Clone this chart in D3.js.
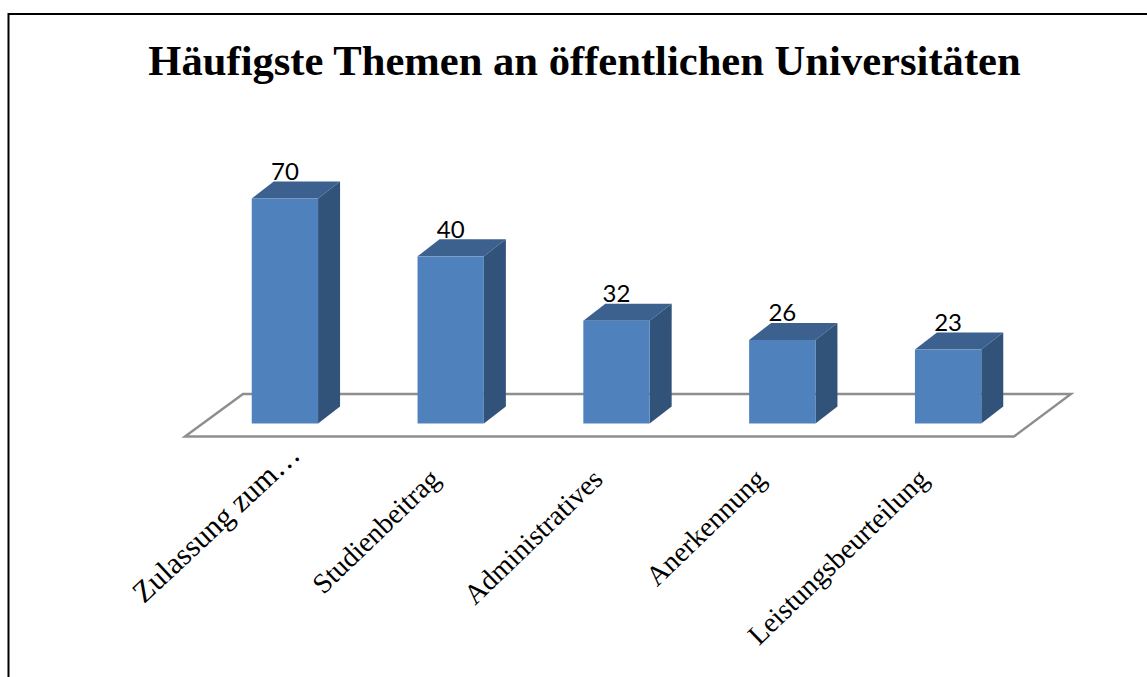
<!DOCTYPE html>
<html>
<head>
<meta charset="utf-8">
<script src="https://d3js.org/d3.v7.min.js"></script>
<style>
  html, body { margin: 0; padding: 0; background: #fff; overflow: hidden; }
</style>
</head>
<body>
<div id="chart"></div>
<script>
// chart data
const categories = ["Zulassung zum…", "Studienbeitrag", "Administratives", "Anerkennung", "Leistungsbeurteilung"];
// bar heights as drawn (the 40 bar is drawn taller than its label says)
const barValues = [70, 52, 32, 26, 23];
const valueLabels = ["70", "40", "32", "26", "23"];
const titleText = "Häufigste Themen an öffentlichen Universitäten";

// SVG definitions
const width = 1147;
const height = 677;
const baseY = 423.5; // front bottom edge of the bars
const depth = {x: 22, y: 17}; // 3d offset of the bars

const svg = d3.select("#chart").append("svg")
    .attr("width", width)
    .attr("height", height)
    .style("display", "block");

// outer frame
svg.append("path")
    .attr("d", `M8.5,${height} V14 H1147`)
    .attr("fill", "none")
    .attr("stroke", "#000")
    .attr("stroke-width", 2);

// title
svg.append("text")
    .attr("x", 584.5)
    .attr("y", 75)
    .attr("text-anchor", "middle")
    .attr("font-family", "'Liberation Serif', serif")
    .attr("font-weight", "bold")
    .attr("font-size", "42.6px")
    .attr("fill", "#000")
    .text(titleText);

// scales
const xScale = d3.scaleBand()
    .domain(categories)
    .range([202, 1031])
    .paddingInner(0.6)
    .paddingOuter(0.3);

const yScale = d3.scaleLinear()
    .domain([0, 70])
    .range([baseY, 198.5]);

// floor of the 3d chart
const [x0, x1] = xScale.range();
svg.append("path")
    .attr("d", `M${x0 - 17},436.5 L${x0 + 41},394 L${x1 + 40},394 L${x1 - 17},436.5 Z`)
    .attr("fill", "#fff")
    .attr("stroke", "#8e8e8e")
    .attr("stroke-width", 2.4);

// bars: one group per category with front, top and side faces
const bars = svg.selectAll(".bar")
    .data(categories.map((c, i) => ({category: c, value: barValues[i], label: valueLabels[i]})))
    .join("g")
    .attr("class", "bar");

bars.append("path") // top face
    .attr("fill", "#3c618f")
    .attr("d", d => {
      const l = xScale(d.category), r = l + xScale.bandwidth(), t = yScale(d.value);
      return `M${l},${t} L${l + depth.x},${t - depth.y} H${r + depth.x} L${r},${t} Z`;
    });

bars.append("path") // side face
    .attr("fill", "#325379")
    .attr("d", d => {
      const r = xScale(d.category) + xScale.bandwidth(), t = yScale(d.value);
      return `M${r},${t} L${r + depth.x},${t - depth.y} V${baseY - depth.y} L${r},${baseY} Z`;
    });

bars.append("rect") // front face
    .attr("fill", "#4f81bd")
    .attr("x", d => xScale(d.category))
    .attr("y", d => yScale(d.value))
    .attr("width", xScale.bandwidth())
    .attr("height", d => baseY - yScale(d.value));

// value labels
bars.append("text")
    .attr("x", d => xScale(d.category) + xScale.bandwidth() / 2)
    .attr("y", d => yScale(d.value) - 18.5)
    .attr("text-anchor", "middle")
    .attr("font-family", "Lato, sans-serif")
    .attr("font-size", "24px")
    .attr("fill", "#000")
    .text(d => d.label);

// category labels, rotated; the truncated first label sits further out than the rest
bars.append("text")
    .attr("transform", (d, i) => {
      const cx = xScale(d.category) + xScale.bandwidth() / 2;
      return i === 0
        ? `translate(${cx + 17},457) rotate(-43)`
        : `translate(${cx - 6 - 3 * i},481) rotate(-44)`;
    })
    .attr("text-anchor", "end")
    .attr("font-family", "'Liberation Serif', serif")
    .attr("font-size", (d, i) => i === 0 ? "30.5px" : "28.2px")
    .attr("fill", "#000")
    .text(d => d.category);
</script>
</body>
</html>
